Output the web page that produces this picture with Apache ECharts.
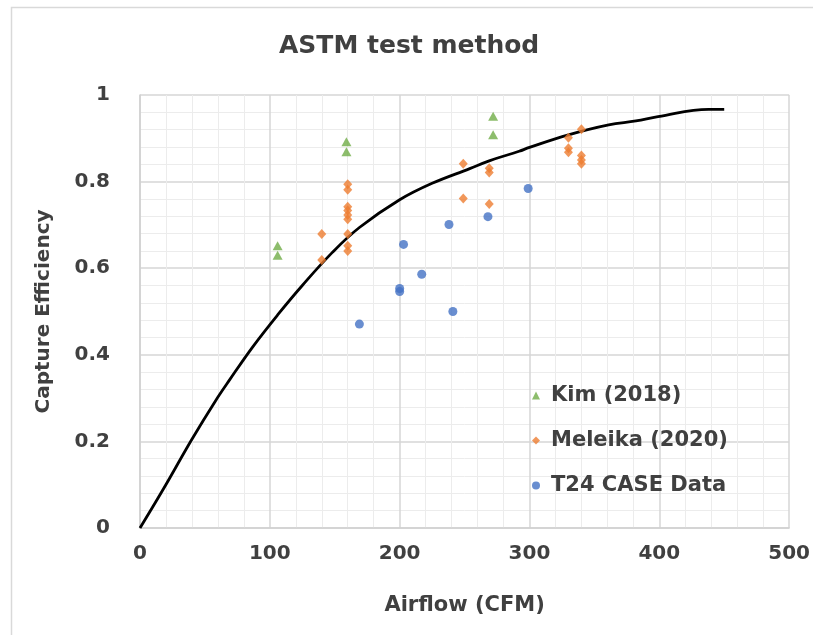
<!DOCTYPE html>
<html>
<head>
<meta charset="utf-8">
<script src="https://cdn.jsdelivr.net/npm/echarts@6/dist/echarts.min.js"></script>
<style>
html,body{margin:0;padding:0;background:#fff;}
#chart{width:813px;height:635px;}
</style>
</head>
<body>
<div id="chart"></div>
<script>
// ---- data ----
const kimX = [106, 106, 159, 159, 272, 272];
const kimY = [0.652, 0.630, 0.892, 0.869, 0.951, 0.908];

const meleikaX = [140, 140, 160, 160, 160, 160, 160, 160, 160, 160, 160, 249, 249, 269, 269, 269, 330, 330, 330, 340, 340, 340, 340];
const meleikaY = [0.679, 0.619, 0.794, 0.781, 0.742, 0.733, 0.723, 0.713, 0.679, 0.652, 0.640, 0.841, 0.761, 0.831, 0.821, 0.748, 0.901, 0.877, 0.868, 0.921, 0.860, 0.850, 0.841];

const t24X = [169, 200, 200, 203, 217, 238, 241, 268, 299];
const t24Y = [0.471, 0.553, 0.546, 0.655, 0.586, 0.701, 0.500, 0.719, 0.784];

const curveX = [0, 18, 40, 58, 69, 87, 106, 125, 148, 169, 200, 225, 254, 269, 292, 300, 330, 361, 382, 399, 438, 450];
const curveY = [0, 0.090, 0.205, 0.293, 0.342, 0.419, 0.492, 0.560, 0.636, 0.694, 0.758, 0.796, 0.830, 0.848, 0.870, 0.879, 0.908, 0.931, 0.940, 0.950, 0.967, 0.967];

const xTicks = [0, 100, 200, 300, 400, 500];
const yTicks = [0, 0.2, 0.4, 0.6, 0.8, 1];

const seriesNames = ['Kim (2018)', 'Meleika (2020)', 'T24 CASE Data'];
const titleText = 'ASTM test method';
const xName = 'Airflow (CFM)';
const yName = 'Capture Efficiency';

// ---- build ----
const zip = (xs, ys) => xs.map((x, i) => [x, ys[i]]);
const FONT = 'DejaVu Sans';
const TXT = '#404040';

const chart = echarts.init(document.getElementById('chart'), null, {renderer: 'canvas'});
chart.setOption({
  backgroundColor: '#ffffff',
  animation: false,
  title: {
    text: titleText,
    left: 274,
    top: 29,
    textStyle: {fontFamily: FONT, fontWeight: 'bold', fontSize: 25, color: TXT}
  },
  graphic: [{
    type: 'rect',
    shape: {x: 11.5, y: 7.5, width: 900, height: 700},
    style: {fill: 'none', stroke: '#d9d9d9', lineWidth: 1.5},
    silent: true
  }],
  grid: {left: 140, right: 22, top: 95, bottom: 107},
  legend: {
    orient: 'vertical',
    left: 527,
    top: 380,
    itemWidth: 8,
    itemHeight: 8,
    itemGap: 24,
    textStyle: {fontFamily: FONT, fontWeight: 'bold', fontSize: 21, color: TXT, padding: [0, 0, 0, 6]},
    data: [
      {name: seriesNames[0], icon: 'triangle'},
      {name: seriesNames[1], icon: 'diamond'},
      {name: seriesNames[2], icon: 'circle'}
    ]
  },
  xAxis: {
    type: 'value',
    min: xTicks[0], max: xTicks[xTicks.length - 1], interval: 100,
    name: xName, nameLocation: 'middle', nameGap: 67,
    nameTextStyle: {fontFamily: FONT, fontWeight: 'bold', fontSize: 21, color: TXT},
    axisLine: {show: true, lineStyle: {color: '#d0d0d0', width: 1.5}},
    axisTick: {show: false},
    axisLabel: {fontFamily: FONT, fontWeight: 'bold', fontSize: 20, color: TXT, margin: 16},
    splitLine: {show: true, lineStyle: {color: '#d6d6d6', width: 1.5}},
    minorTick: {show: false, splitNumber: 5},
    minorSplitLine: {show: true, lineStyle: {color: '#ececec', width: 1}}
  },
  yAxis: {
    type: 'value',
    min: yTicks[0], max: yTicks[yTicks.length - 1], interval: 0.2,
    name: yName, nameLocation: 'middle', nameGap: 86,
    nameTextStyle: {fontFamily: FONT, fontWeight: 'bold', fontSize: 20, color: TXT},
    axisLine: {show: true, lineStyle: {color: '#d0d0d0', width: 1.5}},
    axisTick: {show: false},
    axisLabel: {fontFamily: FONT, fontWeight: 'bold', fontSize: 20, color: TXT, margin: 30,
      formatter: v => String(Math.round(v * 10) / 10)},
    splitLine: {show: true, lineStyle: {color: '#d6d6d6', width: 1.5}},
    minorTick: {show: false, splitNumber: 5},
    minorSplitLine: {show: true, lineStyle: {color: '#ececec', width: 1}}
  },
  series: [
    {
      name: 'curve', type: 'line', data: zip(curveX, curveY),
      showSymbol: false, smooth: 0.4,
      lineStyle: {color: '#000000', width: 2.8},
      itemStyle: {color: '#000000'}, z: 3
    },
    {
      name: seriesNames[0], type: 'scatter', data: zip(kimX, kimY),
      symbol: 'triangle', symbolSize: [10, 9],
      itemStyle: {color: '#70AD47'}, z: 4
    },
    {
      name: seriesNames[1], type: 'scatter', data: zip(meleikaX, meleikaY),
      symbol: 'diamond', symbolSize: [9, 10],
      itemStyle: {color: '#ED7D31'}, z: 4
    },
    {
      name: seriesNames[2], type: 'scatter', data: zip(t24X, t24Y),
      symbol: 'circle', symbolSize: 9,
      itemStyle: {color: '#4472C4'}, z: 4
    }
  ]
});
</script>
</body>
</html>
